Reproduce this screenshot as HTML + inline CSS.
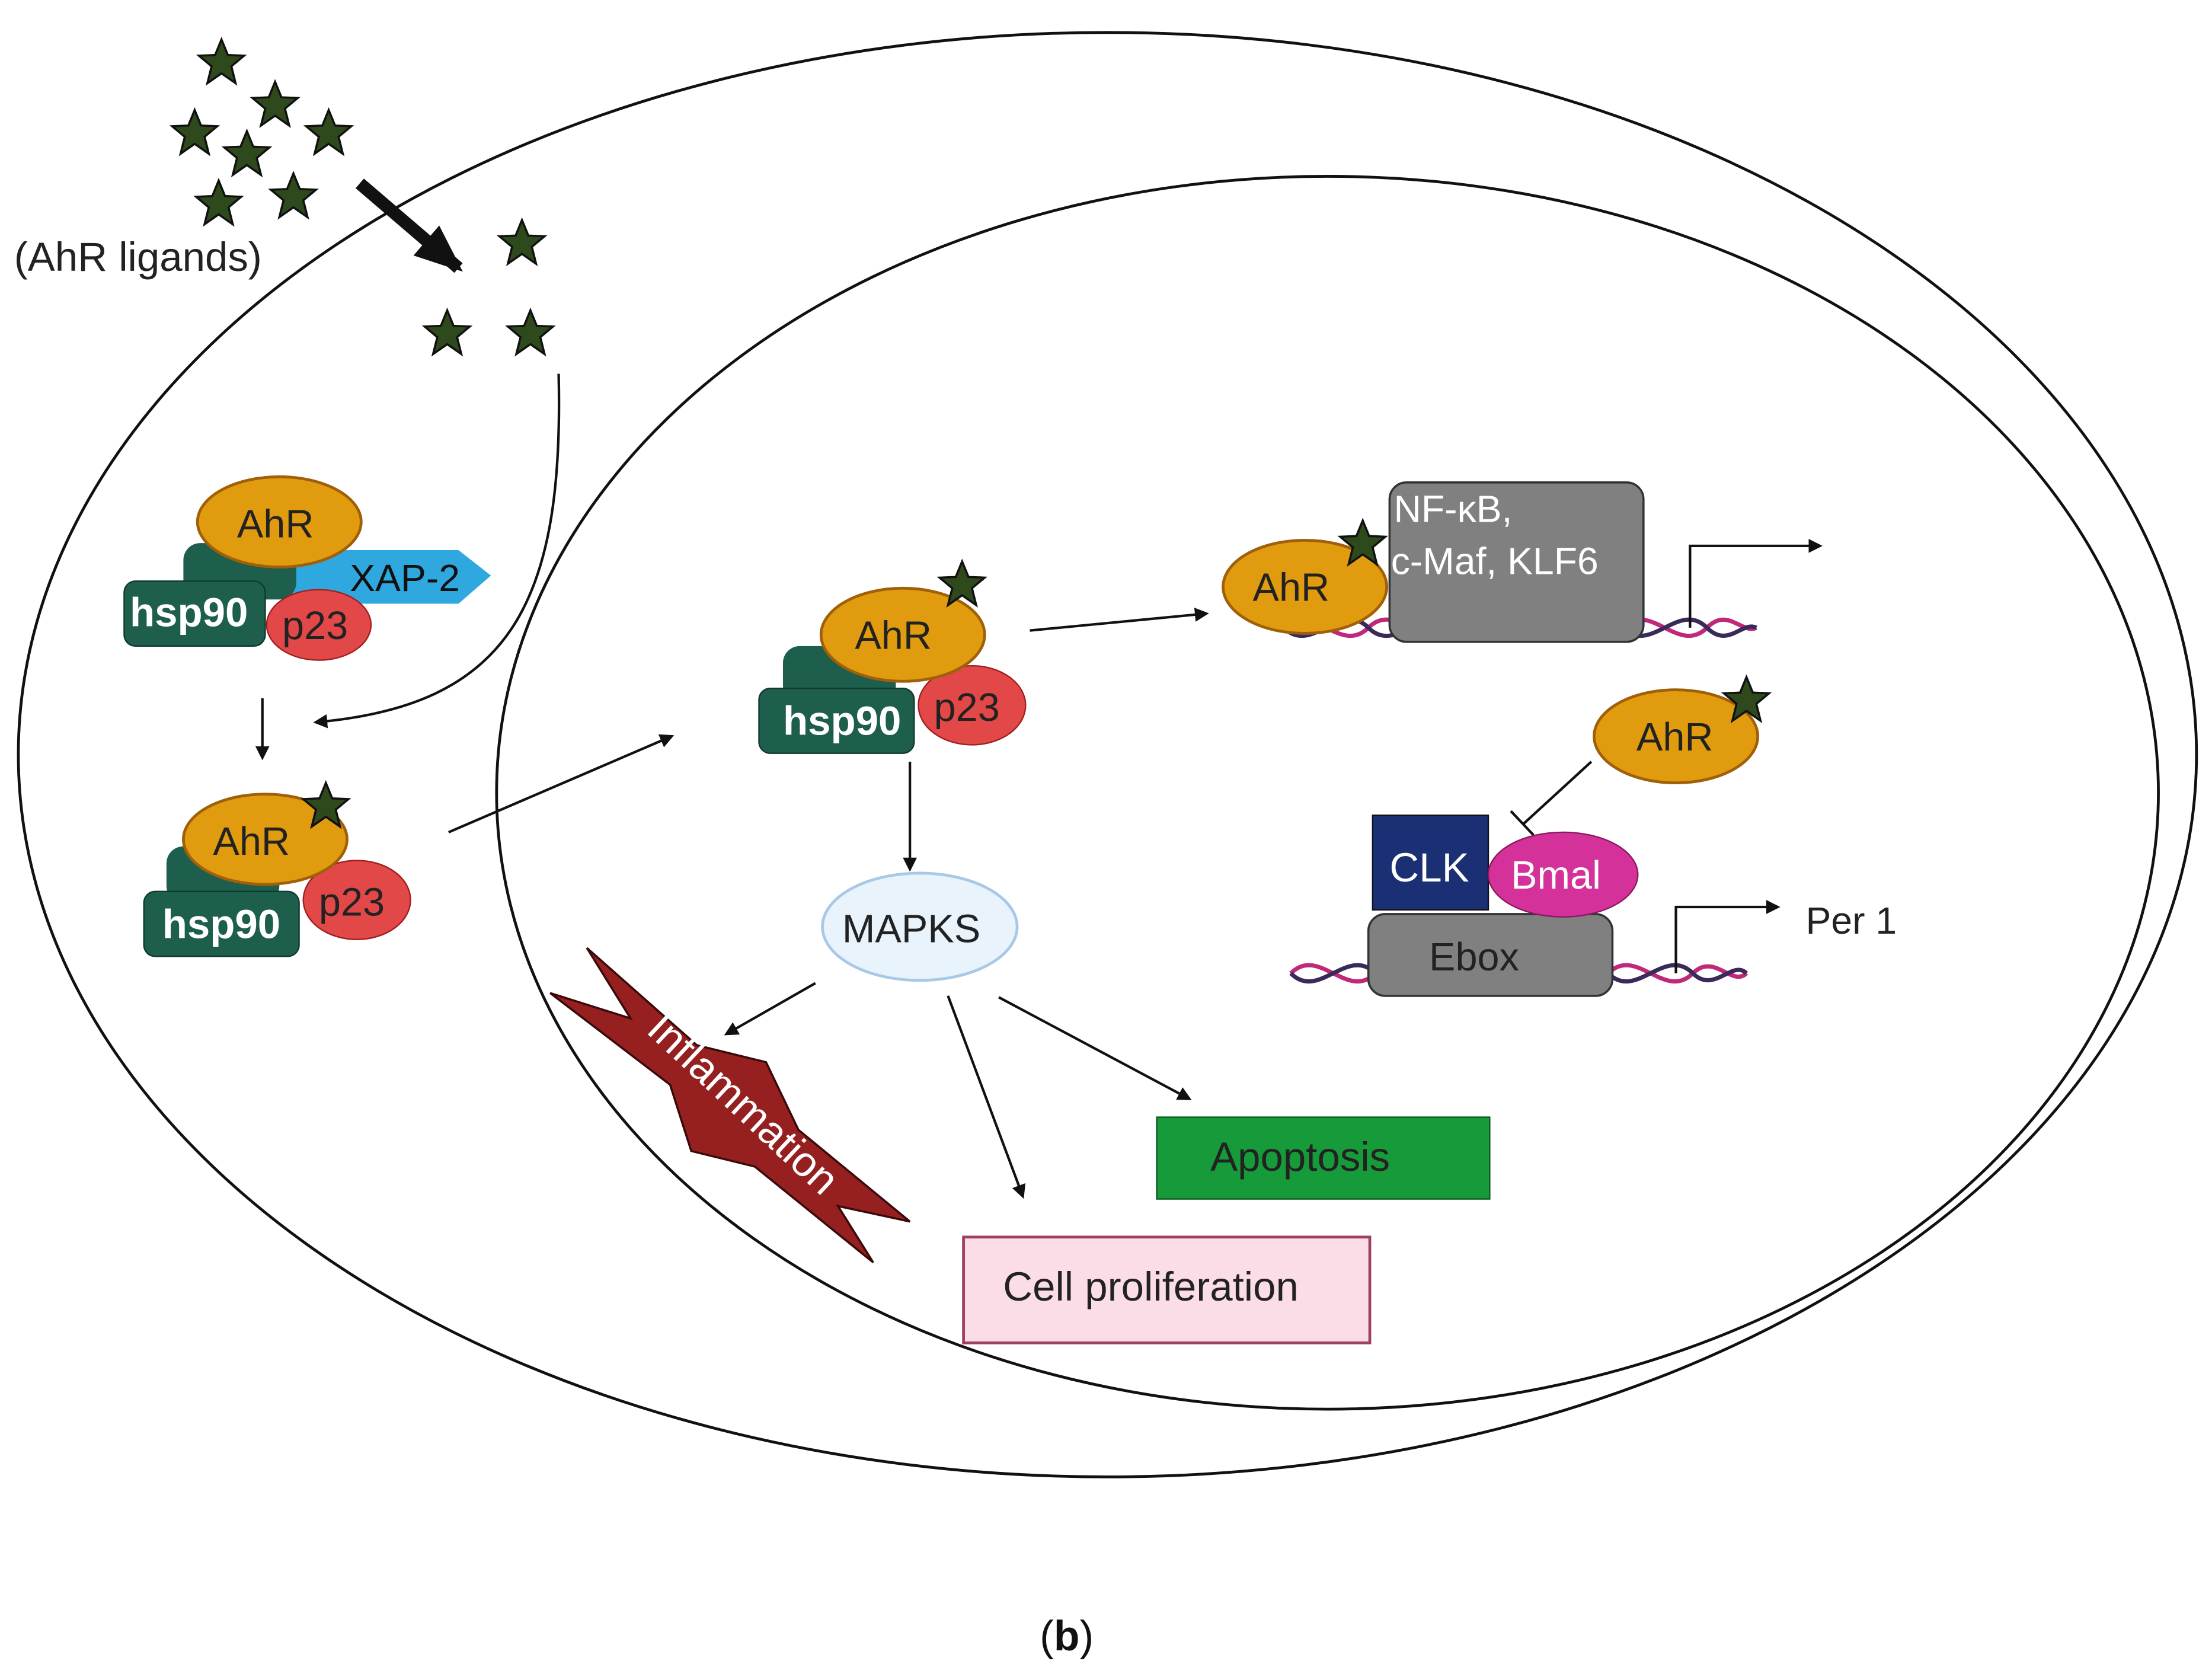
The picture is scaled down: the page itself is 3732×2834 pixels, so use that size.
<!DOCTYPE html>
<html><head><meta charset="utf-8"><style>
html,body{margin:0;padding:0;background:#fff}
svg{display:block}
text{font-family:"Liberation Sans",sans-serif}
</style></head><body>
<svg width="3732" height="2834" viewBox="0 0 1568 1191" preserveAspectRatio="none" xmlns="http://www.w3.org/2000/svg">
<defs>
<marker id="ah" markerWidth="10" markerHeight="10" refX="8" refY="5" orient="auto" markerUnits="userSpaceOnUse"><path d="M0,0 L10,5 L0,10 Z" fill="#111"/></marker>
<marker id="ahb" markerWidth="40" markerHeight="40" refX="30" refY="20" orient="auto" markerUnits="userSpaceOnUse"><path d="M0,6 L34,20 L0,34 Z" fill="#111"/></marker>
<path id="st" d="M0,-17 L4.5,-6 L16,-5.5 L7,2 L10,14 L0,7 L-10,14 L-7,2 L-16,-5.5 L-4.5,-6 Z" fill="#2e4a1c" stroke="#111" stroke-width="1.5"/>
</defs>
<ellipse cx="785" cy="535" rx="772" ry="512" fill="none" stroke="#111" stroke-width="2"/>
<ellipse cx="941" cy="562" rx="589" ry="437" fill="none" stroke="#111" stroke-width="2"/>

<use href="#st" x="157" y="45"/><use href="#st" x="195" y="75"/><use href="#st" x="138" y="95"/><use href="#st" x="233" y="95"/>
<use href="#st" x="175" y="110"/><use href="#st" x="155" y="145"/><use href="#st" x="208" y="140"/>
<use href="#st" x="370" y="173"/><use href="#st" x="317" y="237"/><use href="#st" x="376" y="237"/>
<text x="10" y="192" font-size="29" fill="#222">(AhR ligands)</text>
<line x1="255" y1="130" x2="325" y2="190" stroke="#111" stroke-width="9" marker-end="url(#ahb)"/>
<path d="M396,265 C400,430 360,500 224,512" fill="none" stroke="#111" stroke-width="1.8" marker-end="url(#ah)"/>

<path d="M200,390 L325,390 L348,408 L325,428 L200,428 Z" fill="#2fa7df"/>
<text x="248" y="419" font-size="27" fill="#111">XAP-2</text>
<rect x="130" y="385" width="80" height="40" rx="12" fill="#1e5e4c"/>
<rect x="88" y="412" width="100" height="46" rx="8" fill="#1e5e4c" stroke="#0f3a2e"/>
<text x="92" y="444" font-size="29" font-weight="bold" fill="#fff">hsp90</text>
<ellipse cx="226" cy="443" rx="37" ry="25" fill="#e24848" stroke="#a02020"/>
<text x="200" y="453" font-size="28" fill="#222">p23</text>
<ellipse cx="198" cy="370" rx="58" ry="32" fill="#e09b0e" stroke="#a0600a" stroke-width="2"/>
<text x="168" y="381" font-size="28" fill="#222">AhR</text>
<line x1="186" y1="495" x2="186" y2="537" stroke="#111" stroke-width="1.8" marker-end="url(#ah)"/>

<rect x="118" y="600" width="80" height="40" rx="12" fill="#1e5e4c"/>
<rect x="102" y="632" width="110" height="46" rx="8" fill="#1e5e4c" stroke="#0f3a2e"/>
<text x="115" y="665" font-size="29" font-weight="bold" fill="#fff">hsp90</text>
<ellipse cx="253" cy="638" rx="38" ry="28" fill="#e24848" stroke="#a02020"/>
<text x="226" y="649" font-size="28" fill="#222">p23</text>
<ellipse cx="188" cy="595" rx="58" ry="32" fill="#e09b0e" stroke="#a0600a" stroke-width="2"/>
<text x="151" y="606" font-size="28" fill="#222">AhR</text>
<use href="#st" x="231" y="572"/>
<line x1="318" y1="590" x2="476" y2="522" stroke="#111" stroke-width="1.8" marker-end="url(#ah)"/>

<rect x="555" y="458" width="80" height="40" rx="12" fill="#1e5e4c"/>
<rect x="538" y="488" width="110" height="46" rx="8" fill="#1e5e4c" stroke="#0f3a2e"/>
<text x="555" y="521" font-size="29" font-weight="bold" fill="#fff">hsp90</text>
<ellipse cx="689" cy="500" rx="38" ry="28" fill="#e24848" stroke="#a02020"/>
<text x="662" y="511" font-size="28" fill="#222">p23</text>
<ellipse cx="640" cy="450" rx="58" ry="33" fill="#e09b0e" stroke="#a0600a" stroke-width="2"/>
<text x="606" y="460" font-size="28" fill="#222">AhR</text>
<use href="#st" x="682" y="415"/>
<line x1="730" y1="447" x2="855" y2="435" stroke="#111" stroke-width="1.8" marker-end="url(#ah)"/>

<path d="M910,445 C930,425 950,465 970,445 C990,425 1010,465 1030,445 C1050,425 1070,465 1090,445 C1110,425 1130,465 1150,445 C1170,425 1190,465 1210,445 C1225,430 1235,450 1245,445" fill="none" stroke="#c0287a" stroke-width="3"/>
<path d="M910,445 C930,465 950,425 970,445 C990,465 1010,425 1030,445 C1050,465 1070,425 1090,445 C1110,465 1130,425 1150,445 C1170,465 1190,425 1210,445 C1225,460 1235,440 1245,445" fill="none" stroke="#3a2a5a" stroke-width="3"/>
<rect x="985" y="342" width="180" height="113" rx="12" fill="#808080" stroke="#333" stroke-width="1.5"/>
<text x="988" y="370" font-size="27" fill="#fff">NF-κB,</text>
<text x="986" y="407" font-size="27" fill="#fff">c-Maf, KLF6</text>
<ellipse cx="925" cy="416" rx="58" ry="33" fill="#e09b0e" stroke="#a0600a" stroke-width="2"/>
<text x="888" y="426" font-size="28" fill="#222">AhR</text>
<use href="#st" x="966" y="386"/>
<path d="M1198,445 L1198,387 L1290,387" fill="none" stroke="#111" stroke-width="1.8" marker-end="url(#ah)"/>

<ellipse cx="1188" cy="522" rx="58" ry="33" fill="#e09b0e" stroke="#a0600a" stroke-width="2"/>
<text x="1160" y="532" font-size="28" fill="#222">AhR</text>
<use href="#st" x="1238" y="497"/>
<line x1="1128" y1="540" x2="1080" y2="584" stroke="#111" stroke-width="1.8"/>
<line x1="1071" y1="575" x2="1087" y2="592" stroke="#111" stroke-width="1.8"/>

<path d="M915,690 C935,670 955,710 975,690 M1140,690 C1160,670 1180,710 1200,690 C1215,675 1228,700 1238,690" fill="none" stroke="#c0287a" stroke-width="3"/>
<path d="M915,690 C935,710 955,670 975,690 M1140,690 C1160,710 1180,670 1200,690 C1215,705 1228,680 1238,690" fill="none" stroke="#3a2a5a" stroke-width="3"/>
<rect x="970" y="648" width="173" height="58" rx="12" fill="#808080" stroke="#333" stroke-width="1.5"/>
<text x="1013" y="688" font-size="28" fill="#222">Ebox</text>
<rect x="973" y="578" width="82" height="67" fill="#1b2f75" stroke="#111"/>
<text x="985" y="625" font-size="29" fill="#fff">CLK</text>
<ellipse cx="1108" cy="620" rx="53" ry="30" fill="#d4329a" stroke="#8a1a60"/>
<text x="1071" y="630" font-size="28" fill="#fff">Bmal</text>
<path d="M1188,690 L1188,643 L1260,643" fill="none" stroke="#111" stroke-width="1.8" marker-end="url(#ah)"/>
<text x="1280" y="662" font-size="27" fill="#222">Per 1</text>

<line x1="645" y1="540" x2="645" y2="616" stroke="#111" stroke-width="1.8" marker-end="url(#ah)"/>
<ellipse cx="652" cy="657" rx="69" ry="38" fill="#e8f3fc" stroke="#a8c8e8" stroke-width="2"/>
<text x="597" y="668" font-size="28" fill="#222">MAPKS</text>
<line x1="672" y1="706" x2="725" y2="848" stroke="#111" stroke-width="1.8" marker-end="url(#ah)"/>
<line x1="708" y1="707" x2="843" y2="779" stroke="#111" stroke-width="1.8" marker-end="url(#ah)"/>

<path d="M416,672 L494,741 L543,753 L566,801 L645,866 L594,855 L619,895 L535,827 L490,816 L475,769 L390,704 L447,722 Z" fill="#962020" stroke="#3a0a0a" stroke-width="1.5"/>
<line x1="578" y1="697" x2="515" y2="733" stroke="#111" stroke-width="1.8" marker-end="url(#ah)"/>
<text x="0" y="0" font-size="30" fill="#fff" text-anchor="middle" transform="translate(520,790) rotate(43)">Inflammation</text>

<rect x="820" y="792" width="236" height="58" fill="#179a3a" stroke="#0b5a20"/>
<text x="858" y="830" font-size="29" fill="#222">Apoptosis</text>
<rect x="683" y="877" width="288" height="75" fill="#fadde6" stroke="#a04060" stroke-width="2"/>
<text x="711" y="922" font-size="29" fill="#222">Cell proliferation</text>

<text x="737" y="1170" font-size="30" fill="#111" font-family="Liberation Serif,serif">(<tspan font-weight="bold">b</tspan>)</text>
</svg>
</body></html>
